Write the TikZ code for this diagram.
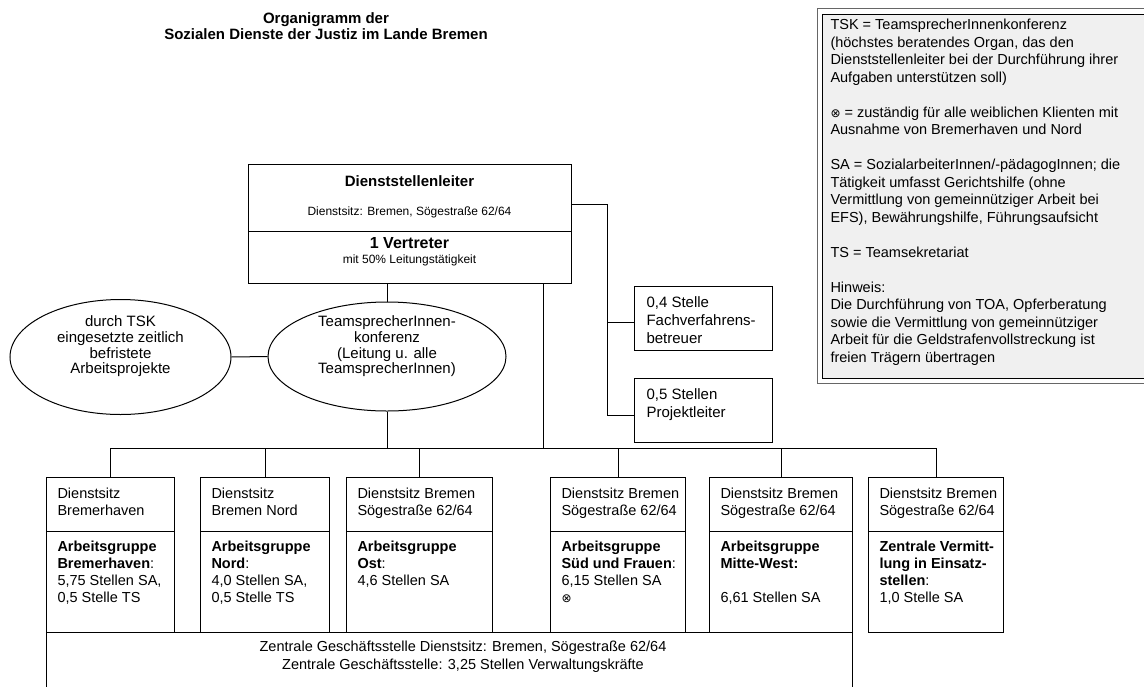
\documentclass[tikz,border=0pt]{standalone}
\usepackage{fontspec}
\setmainfont{Liberation Sans}
\newfontfamily\symfont{DejaVu Sans}
\usetikzlibrary{shapes.geometric}

\newcommand{\kreuz}{{\symfont\fontsize{12}{12}\selectfont ⊗}}

\tikzset{
  frame/.style={draw, rectangle, inner sep=0pt, anchor=north west},
  txt/.style={inner sep=0pt, anchor=north west, align=left, font=\fontsize{14.5}{17}\selectfont},
  ctxt/.style={inner sep=0pt, align=center, font=\fontsize{15}{15.7}\selectfont},
  oval/.style={draw, ellipse, inner sep=0pt},
}

\begin{document}
\begin{tikzpicture}[x=1pt, y=-1pt, line width=1pt]
\useasboundingbox (0,0) rectangle (1144,686);

\node[inner sep=0pt, align=center, font=\fontsize{15}{16.5}\selectfont\bfseries] (titel) at (326,26) {Organigramm der\\Sozialen Dienste der Justiz im Lande Bremen};

% Legende
\draw[black!60] (817,8) rectangle (1150,383);
\filldraw[fill=black!6, draw=black] (822,14) rectangle (1150,378);
\node[txt, font=\fontsize{14.5}{17.5}\selectfont] (legende) at (830,18.5) {TSK = TeamsprecherInnenkonferenz\\
(höchstes beratendes Organ, das den\\
Dienststellenleiter bei der Durchführung ihrer\\
Aufgaben unterstützen soll)\\[17.5pt]
\kreuz{} = zuständig für alle weiblichen Klienten mit\\
Ausnahme von Bremerhaven und Nord\\[17.5pt]
SA = SozialarbeiterInnen/-pädagogInnen; die\\
Tätigkeit umfasst Gerichtshilfe (ohne\\
Vermittlung von gemeinnütziger Arbeit bei\\
EFS), Bewährungshilfe, Führungsaufsicht\\[17.5pt]
TS = Teamsekretariat\\[17.5pt]
Hinweis:\\
Die Durchführung von TOA, Opferberatung\\
sowie die Vermittlung von gemeinnütziger\\
Arbeit für die Geldstrafenvollstreckung ist\\
freien Trägern übertragen};

% Leitung
\node[frame, minimum width=323pt, minimum height=67pt] (leitA) at (248,164) {};
\node[frame, minimum width=323pt, minimum height=52pt] (leitB) at (248,231) {};
\node[font=\fontsize{15}{17}\selectfont\bfseries] (leitname) at (409.5,181) {Dienststellenleiter};
\node[font=\fontsize{12}{14}\selectfont] (leitsitz) at (409.5,212) {Dienstsitz: Bremen, Sögestraße 62/64};
\node[font=\fontsize{16}{18}\selectfont\bfseries] (vertr) at (409.5,243) {1 Vertreter};
\node[font=\fontsize{12}{14}\selectfont] (vertrtxt) at (409.5,260) {mit 50\% Leitungstätigkeit};

\node[frame, minimum width=138pt, minimum height=64pt] (fv) at (634,286) {};
\node[txt, font=\fontsize{15}{18}\selectfont] (fvtxt) at (646,296.5) {0,4 Stelle\\Fachverfahrens-\\betreuer};
\node[frame, minimum width=138pt, minimum height=64pt] (pl) at (634,378) {};
\node[txt, font=\fontsize{15}{18}\selectfont] (pltxt) at (646,388.5) {0,5 Stellen\\Projektleiter};

\coordinate (rt) at (607,204);
\coordinate (rf) at (607,322);
\coordinate (rb) at (607,415);
\draw (leitA.east |- rt) -- (rt) -- (rb) -- (rb -| pl.west);
\draw (rf) -- (rf -| fv.west);

% TSK
\node[oval, minimum width=221pt, minimum height=115pt] (arbproj) at (120.5,357) {};
\node[ctxt] (arbprojtxt) at (120.5,346.5) {durch TSK\\eingesetzte zeitlich\\befristete\\Arbeitsprojekte};
\node[oval, minimum width=238pt, minimum height=109pt] (tsk) at (387,356.5) {};
\node[ctxt] (tsktxt) at (387,346.5) {TeamsprecherInnen-\\konferenz\\(Leitung u. alle\\TeamsprecherInnen)};
\draw (arbproj.east) -- (tsk.west);
\draw (tsk.north |- leitB.south) -- (tsk.north);

% Arbeitsgruppen
\node[frame, minimum width=128pt, minimum height=54pt] (bh) at (46,477) {};
\node[frame, minimum width=128pt, minimum height=101pt] (bhag) at (46,531) {};
\node[frame, minimum width=129pt, minimum height=54pt] (bn) at (200,477) {};
\node[frame, minimum width=129pt, minimum height=101pt] (bnag) at (200,531) {};
\node[frame, minimum width=146pt, minimum height=54pt] (ost) at (346,477) {};
\node[frame, minimum width=146pt, minimum height=101pt] (ostag) at (346,531) {};
\node[frame, minimum width=135pt, minimum height=54pt] (sued) at (550,477) {};
\node[frame, minimum width=135pt, minimum height=101pt] (suedag) at (550,531) {};
\node[frame, minimum width=143pt, minimum height=54pt] (mw) at (709,477) {};
\node[frame, minimum width=143pt, minimum height=101pt] (mwag) at (709,531) {};
\node[frame, minimum width=135pt, minimum height=54pt] (zv) at (868,477) {};
\node[frame, minimum width=135pt, minimum height=101pt] (zvag) at (868,531) {};

\node[txt] (bhsitz) at (57,487.5) {Dienstsitz\\Bremerhaven};
\node[txt] (bhtxt) at (57,540.5) {\textbf{Arbeitsgruppe}\\\textbf{Bremerhaven}:\\5,75 Stellen SA,\\0,5 Stelle TS};
\node[txt] (bnsitz) at (211,487.5) {Dienstsitz\\Bremen Nord};
\node[txt] (bntxt) at (211,540.5) {\textbf{Arbeitsgruppe}\\\textbf{Nord}:\\4,0 Stellen SA,\\0,5 Stelle TS};
\node[txt] (ostsitz) at (357,487.5) {Dienstsitz Bremen\\Sögestraße 62/64};
\node[txt] (osttxt) at (357,540.5) {\textbf{Arbeitsgruppe}\\\textbf{Ost}:\\4,6 Stellen SA};
\node[txt] (suedsitz) at (561,487.5) {Dienstsitz Bremen\\Sögestraße 62/64};
\node[txt] (suedtxt) at (561,540.5) {\textbf{Arbeitsgruppe}\\\textbf{Süd und Frauen}:\\6,15 Stellen SA\\\kreuz};
\node[txt] (mwsitz) at (720,487.5) {Dienstsitz Bremen\\Sögestraße 62/64};
\node[txt] (mwtxt) at (720,540.5) {\textbf{Arbeitsgruppe}\\\textbf{Mitte-West:}\\[17pt]6,61 Stellen SA};
\node[txt] (zvsitz) at (879,487.5) {Dienstsitz Bremen\\Sögestraße 62/64};
\node[txt] (zvtxt) at (879,540.5) {\textbf{Zentrale Vermitt-}\\\textbf{lung in Einsatz-}\\\textbf{stellen}:\\1,0 Stelle SA};

\coordinate (busL) at (110,448);
\draw (bh.north |- busL) -- (zv.north |- busL);
\foreach \n in {bh,bn,ost,sued,mw,zv}
  \draw (\n.north |- busL) -- (\n.north);
\draw (tsk.south) -- (tsk.south |- busL);
\coordinate (vtop) at (543,283);
\draw (vtop) -- (vtop |- busL);

% Geschaeftsstelle
\draw (46,690) -- (46,632) -- (852,632) -- (852,690);
\node[inner sep=0pt, align=center, font=\fontsize{14.5}{18}\selectfont] (geschaeft) at (463,657) {Zentrale Geschäftsstelle Dienstsitz: Bremen, Sögestraße 62/64\\Zentrale Geschäftsstelle: 3,25 Stellen Verwaltungskräfte};
\end{tikzpicture}
\end{document}
